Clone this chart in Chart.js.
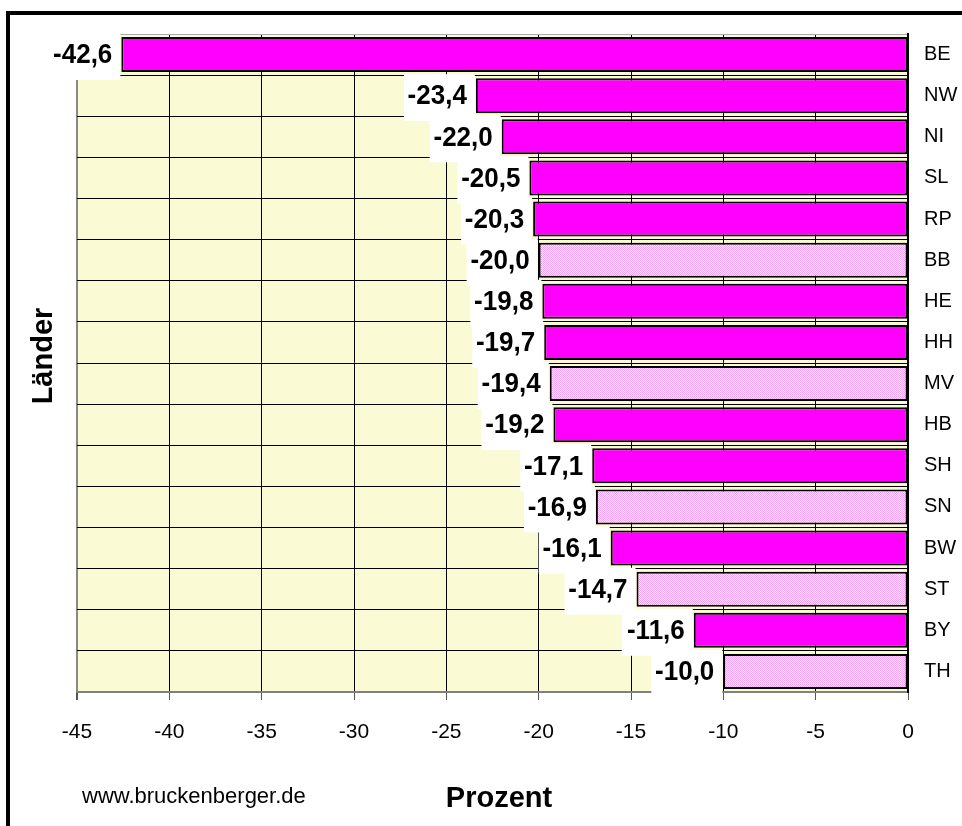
<!DOCTYPE html>
<html>
<head>
<meta charset="utf-8">
<style>
  html, body { margin: 0; padding: 0; background: #fff; }
  canvas { display: block; }
</style>
<script src="https://cdn.jsdelivr.net/npm/chart.js@4/dist/chart.umd.min.js"></script>
</head>
<body>
<canvas id="chart" width="962" height="826"></canvas>
<script>
// Länder, sorted as in the picture (top to bottom)
const categories = ['BE', 'NW', 'NI', 'SL', 'RP', 'BB', 'HE', 'HH', 'MV', 'HB', 'SH', 'SN', 'BW', 'ST', 'BY', 'TH'];
const values = [-42.6, -23.4, -22.0, -20.5, -20.3, -20.0, -19.8, -19.7, -19.4, -19.2, -17.1, -16.9, -16.1, -14.7, -11.6, -10.0];
// east german states get the dotted fill
const dotted = ['BB', 'MV', 'SN', 'ST', 'TH'];
const xMin = -45;
const xMax = 0;
const xStep = 5;

const FONT = "'Liberation Sans', Arial, sans-serif";

function makeDots() {
    const c = document.createElement('canvas');
    c.width = 2; c.height = 2;
    const g = c.getContext('2d');
    g.fillStyle = '#FFEEFF'; g.fillRect(0, 0, 2, 2);
    g.fillStyle = '#F7A3F7'; g.fillRect(0, 0, 1, 1); g.fillRect(1, 1, 1, 1);
    return g.createPattern(c, 'repeat');
}
const dots = makeDots();

const deco = {
    id: 'deco',
    beforeDraw(chart) {
        const {ctx, chartArea: a} = chart;
        ctx.save();
        ctx.fillStyle = '#fff';
        ctx.fillRect(0, 0, chart.width, chart.height);
        ctx.fillStyle = '#FAFAD4';
        ctx.fillRect(a.left, a.top, a.right - a.left, a.bottom - a.top);
        ctx.restore();
    },
    afterDatasetsDraw(chart) {
        const ctx = chart.ctx;
        const meta = chart.getDatasetMeta(0);
        ctx.save();
        meta.data.forEach((el, i) => {
            const top = el.y - el.height / 2;
            ctx.fillStyle = '#fff';
            ctx.fillRect(el.x - 72, top - 4, 71, el.height + 12);
            // value labels look a bit taller than plain bold Arial
            ctx.save();
            ctx.translate(el.x - 9, el.y + 1);
            ctx.scale(1, 1.08);
            ctx.fillStyle = '#000';
            ctx.font = 'bold 26px ' + FONT;
            ctx.textAlign = 'right';
            ctx.textBaseline = 'middle';
            ctx.fillText(values[i].toFixed(1).replace('.', ','), 0, 0);
            ctx.restore();
        });
        ctx.restore();
    },
    afterDraw(chart) {
        const ctx = chart.ctx;
        ctx.save();
        // outer frame, runs off the right and bottom edge
        ctx.strokeStyle = '#000';
        ctx.lineWidth = 4;
        ctx.strokeRect(8, 13, 970, 830);

        ctx.fillStyle = '#000';
        ctx.font = 'bold 29px ' + FONT;
        ctx.textAlign = 'center';
        ctx.textBaseline = 'alphabetic';
        ctx.fillText('Prozent', 499, 807);

        ctx.save();
        ctx.translate(52, 356);
        ctx.rotate(-Math.PI / 2);
        ctx.fillText('Länder', 0, 0);
        ctx.restore();

        ctx.font = '22px ' + FONT;
        ctx.textAlign = 'left';
        ctx.fillText('www.bruckenberger.de', 82, 803);
        ctx.restore();
    }
};

new Chart(document.getElementById('chart').getContext('2d'), {
    type: 'bar',
    data: {
        labels: categories,
        datasets: [{
            data: values,
            backgroundColor: categories.map(c => dotted.includes(c) ? dots : '#FF00FF'),
            borderColor: '#000',
            borderWidth: 2,
            borderSkipped: false,
            categoryPercentage: 1.0,
            barPercentage: 0.85
        }]
    },
    options: {
        indexAxis: 'y',
        responsive: false,
        animation: false,
        layout: {padding: {left: 77, top: 34, right: 0, bottom: 0}},
        plugins: {
            legend: {display: false},
            tooltip: {enabled: false}
        },
        scales: {
            x: {
                min: xMin,
                max: xMax,
                afterFit(scale) { scale.height = 134; },
                grid: {
                    color: c => (c.tick && c.tick.value === xMin) ? '#888' : '#000',
                    lineWidth: c => (c.tick && c.tick.value === xMin) ? 2 : 1,
                    tickColor: '#555',
                    tickLength: 8
                },
                border: {display: true, color: '#808080', width: 2},
                ticks: {
                    stepSize: xStep,
                    padding: 20,
                    color: '#000',
                    font: {family: FONT, size: 21},
                    callback: v => String(v)
                }
            },
            y: {
                position: 'right',
                afterFit(scale) { scale.width = 54; },
                grid: {
                    offset: true,
                    drawTicks: false,
                    color: c => c.index === 0 ? '#aaa' : '#000',
                    lineWidth: 1
                },
                border: {display: true, color: '#000', width: 2},
                ticks: {
                    padding: 16,
                    color: '#000',
                    font: {family: FONT, size: 20}
                }
            }
        }
    },
    plugins: [deco]
});
</script>
</body>
</html>
